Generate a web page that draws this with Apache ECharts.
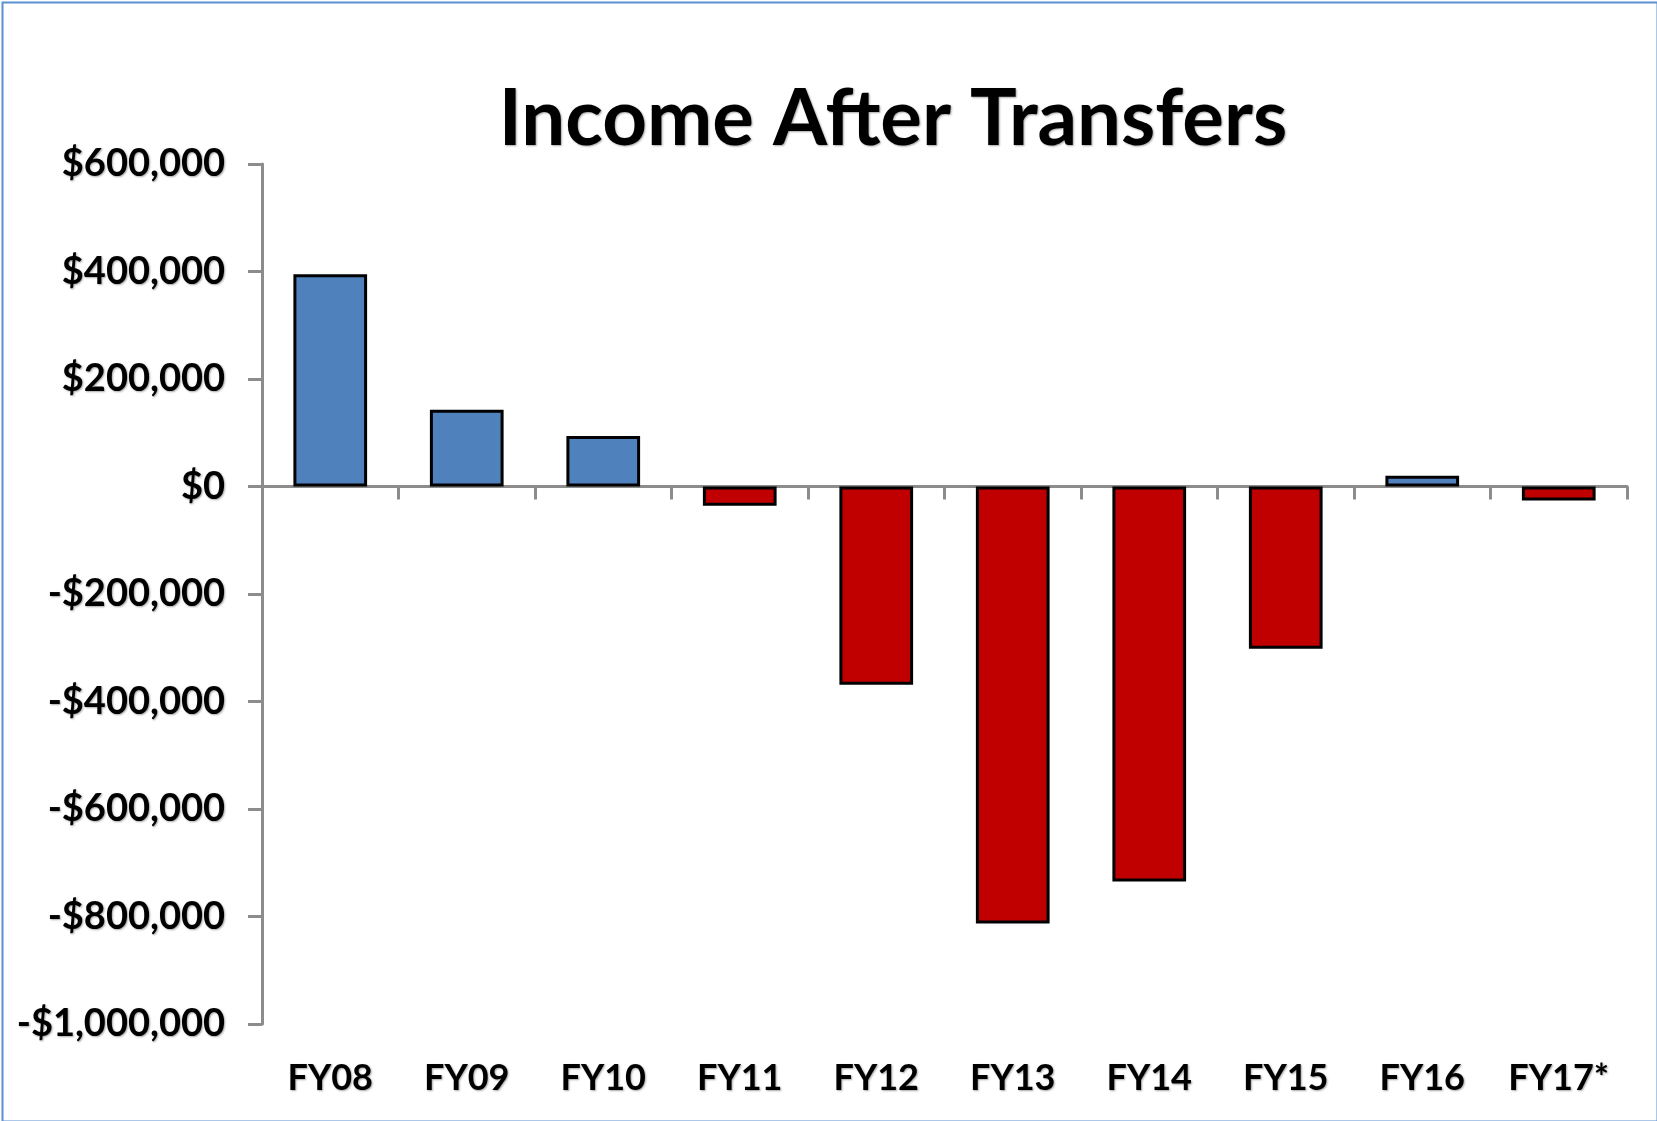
<!DOCTYPE html>
<html>
<head>
<meta charset="utf-8">
<script src="https://cdn.jsdelivr.net/npm/echarts@6/dist/echarts.min.js"></script>
<style>
html,body{margin:0;padding:0;background:#fff;}
#chart{width:1657px;height:1121px;}
</style>
</head>
<body>
<div id="chart"></div>
<script>
var years=['FY08','FY09','FY10','FY11','FY12','FY13','FY14','FY15','FY16','FY17*'];
var income=[395000,143000,94000,-36000,-369000,-813000,-735000,-302000,20000,-26000];
var yTicks={min:-1000000,max:600000,step:200000};

var posColor='#4F81BD',negColor='#C00000';
var font='Lato';
var shadow={textShadowColor:'rgba(0,0,0,0.35)',textShadowBlur:2,textShadowOffsetX:1,textShadowOffsetY:1};

function money(v){
    var s=Math.abs(v).toString().replace(/\B(?=(\d{3})+(?!\d))/g,',');
    return (v<0?'-$':'$')+s;
}

var bars=[];
for(var i=0;i<income.length;i++){
    bars.push({value:income[i],itemStyle:{color:income[i]<0?negColor:posColor}});
}

var chart=echarts.init(document.getElementById('chart'));
chart.setOption({
    animation:false,
    backgroundColor:'#fff',
    title:{
        text:'Income After Transfers',
        left:888,top:76,textAlign:'center',
        textStyle:Object.assign({fontFamily:font,fontWeight:'bold',fontSize:78,color:'#000'},shadow)
    },
    graphic:[{
        type:'rect',left:0,top:0,
        shape:{x:1,y:1,width:1655,height:1119},
        style:{fill:'none',stroke:'#5b8fcf',lineWidth:2},
        silent:true
    }],
    grid:{left:262,right:30,top:164,bottom:97,containLabel:false},
    xAxis:[{
        type:'category',data:years,
        axisLine:{onZero:true,lineStyle:{color:'#8c8c8c',width:3}},
        axisTick:{show:true,length:13,alignWithLabel:false,lineStyle:{color:'#8c8c8c',width:3}},
        axisLabel:{show:false}
    },{
        type:'category',data:years,position:'bottom',
        axisLine:{show:false,onZero:false},
        axisTick:{show:false},
        axisLabel:Object.assign({margin:36,fontFamily:font,fontWeight:'bold',fontSize:36,color:'#000'},shadow)
    }],
    yAxis:{
        type:'value',min:yTicks.min,max:yTicks.max,interval:yTicks.step,
        axisLine:{show:true,lineStyle:{color:'#8c8c8c',width:3}},
        axisTick:{show:true,length:14,lineStyle:{color:'#8c8c8c',width:3}},
        splitLine:{show:false},
        axisLabel:Object.assign({margin:37,fontFamily:font,fontWeight:'bold',fontSize:38,color:'#000',formatter:money},shadow)
    },
    series:[{
        type:'bar',xAxisIndex:0,data:bars,barWidth:'54%',
        itemStyle:{borderColor:'#000',borderWidth:3}
    }]
});
</script>
</body>
</html>
